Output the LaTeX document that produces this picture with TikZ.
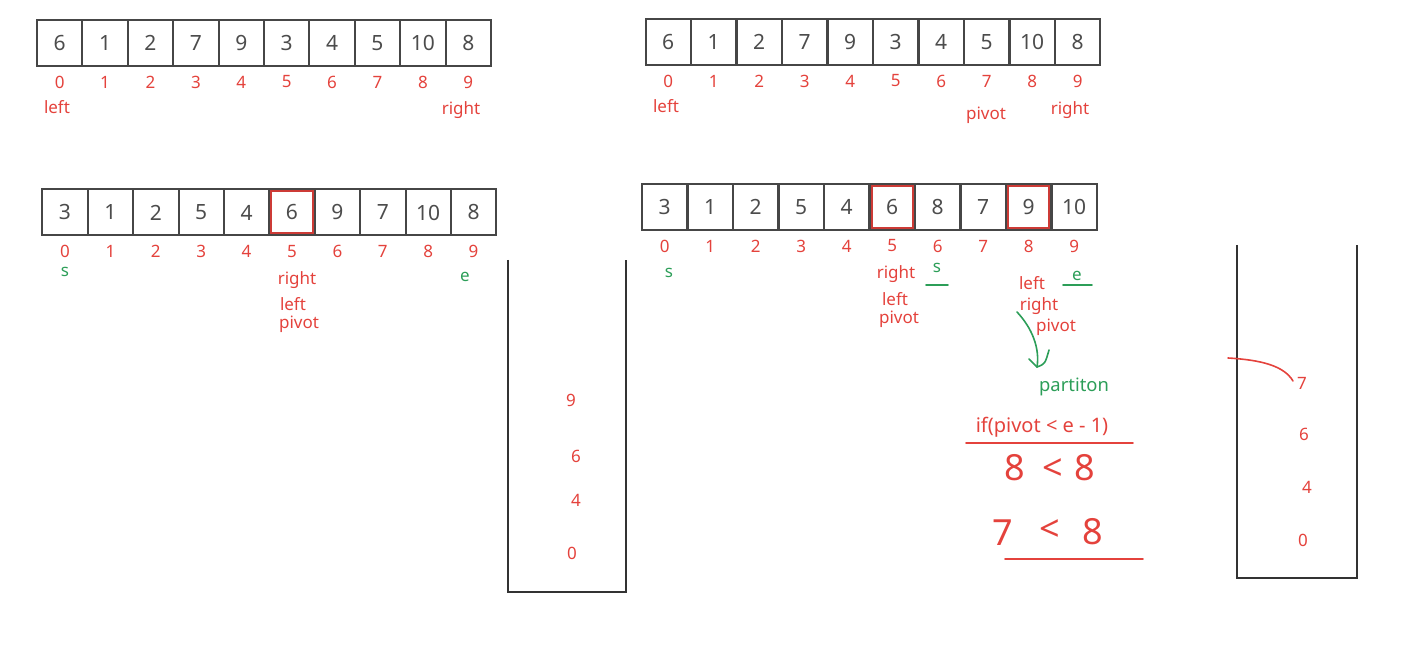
\documentclass[tikz,border=0pt]{standalone}
\usepackage{fontspec}
\setmainfont{Noto Sans}
\usetikzlibrary{positioning}
\definecolor{labred}{RGB}{228,66,60}
\definecolor{labgreen}{RGB}{44,158,88}
\definecolor{cellgray}{RGB}{70,70,70}

\begin{document}
\begin{tikzpicture}[
  x=0.5pt, y=-0.5pt,
  cell/.style={draw=cellgray, line width=1pt, minimum width=22.7pt,
               minimum height=23pt, inner sep=0pt, outer sep=0pt,
               font=\fontsize{10.5}{12}\selectfont, text=black!70},
  idx/.style={text=labred, font=\fontsize{8.5}{10}\selectfont, inner sep=1pt},
  tag/.style={text=labred, font=\fontsize{8.5}{10}\selectfont, inner sep=1pt},
  gtag/.style={text=labgreen, font=\fontsize{8.5}{10}\selectfont, inner sep=1pt},
  hotbox/.style={draw=labred!90!black, line width=1pt},
  wall/.style={draw=black!80, line width=1pt},
  ink/.style={labred, line width=0.8pt, line cap=round},
  gink/.style={labgreen, line width=0.8pt, line cap=round},
  hand/.style={text=labred, font=\fontsize{18}{22}\selectfont, inner sep=0pt}
 ]
\useasboundingbox (0,0) rectangle (1424,662);

% top left array
\foreach \v [count=\i from 0] in {6,1,2,7,9,3,4,5,10,8} {
  \node[cell] (ta\i) at (59.7+45.4*\i,43) {\v};
  \node[idx] (tai\i) at ([yshift=-8pt]ta\i.south) {\i};
}
\node[tag] (taleft)  at (57,107)  {left};
\node[tag] (taright) at (461,110) {right};

% top right array
\foreach \v [count=\i from 0] in {6,1,2,7,9,3,4,5,10,8} {
  \node[cell] (tb\i) at (668.2+45.5*\i,42) {\v};
  \node[idx] (tbi\i) at ([yshift=-8pt]tb\i.south) {\i};
}
\node[tag] (tbleft)  at (666,106)  {left};
\node[tag] (tbpivot) at (986,115)  {pivot};
\node[tag] (tbright) at (1070,110) {right};

% bottom left array
\foreach \v [count=\i from 0] in {3,1,2,5,4,6,9,7,10,8} {
  \node[cell] (ba\i) at (65+45.4*\i,212.5) {\v};
  \node[idx] (bai\i) at ([yshift=-8pt]ba\i.south) {\i};
}
\draw[hotbox] ([shift={(1pt,-1pt)}]ba5.north west) rectangle ([shift={(-1pt,1pt)}]ba5.south east);
\node[gtag] (bas)     at (65,272)  {s};
\node[tag]  (baright) at (297,280) {right};
\node[tag]  (baleft)  at (293,304) {left};
\node[tag]  (bapivot) at (299,324) {pivot};
\node[gtag] (bae)     at (465,277) {e};

% bottom right array
\foreach \v [count=\i from 0] in {3,1,2,5,4,6,8,7,9,10} {
  \node[cell] (bb\i) at (664.7+45.5*\i,207) {\v};
  \node[idx] (bbi\i) at ([yshift=-8pt]bb\i.south) {\i};
}
\draw[hotbox] ([shift={(1pt,-1pt)}]bb5.north west) rectangle ([shift={(-1pt,1pt)}]bb5.south east);
\draw[hotbox] ([shift={(1pt,-1pt)}]bb8.north west) rectangle ([shift={(-1pt,1pt)}]bb8.south east);
\node[gtag] (bbs)      at (669,273)  {s};
\node[tag]  (bbright)  at (896,274)  {right};
\node[tag]  (bbleft)   at (895,299)  {left};
\node[tag]  (bbpivot)  at (899,319)  {pivot};
\node[gtag] (bbsnew)   at (937,268)  {s};
\draw[gink] (926,285) -- (948,285);
\node[tag]  (bbleftb)  at (1032,283) {left};
\node[gtag] (bbe)      at (1077,276) {e};
\draw[gink] (1063,285) -- (1092,285);
\node[tag]  (bbrightb) at (1039,306) {right};
\node[tag]  (bbpivotb) at (1056,327) {pivot};

% partition step
\coordinate (bendtop) at (1017,312);
\coordinate (bendtip) at (1037,367);
\draw[gink] (bendtop) .. controls (1032,328) and (1040,348) .. (bendtip);
\draw[gink] (1029,359) -- (bendtip) .. controls (1045,364) .. (1049,350);
\node[gtag, font=\fontsize{9.2}{11}\selectfont] (part) at (1074,387) {partiton};
\node[tag, font=\fontsize{10}{12}\selectfont]   (cond) at (1042,427) {if(pivot < e - 1)};
\draw[ink] (966,443) -- (1133,443);
\node[hand] (ca1) at (1015,468) {8};
\node[hand] (ca2) at (1053,470) {<};
\node[hand] (ca3) at (1085,468) {8};
\node[hand] (cb1) at (1003,533) {7};
\node[hand] (cb2) at (1050,531) {<};
\node[hand] (cb3) at (1093,532) {8};
\draw[ink] (1005,559) -- (1143,559);

% left stack
\draw[wall] (508,260) -- (508,592) -- (626,592) -- (626,260);
\node[tag] (sa3) at (571,400) {9};
\node[tag] (sa2) at (576,456) {6};
\node[tag] (sa1) at (576,500) {4};
\node[tag] (sa0) at (572,553) {0};

% right stack
\draw[wall] (1237,245) -- (1237,578) -- (1357,578) -- (1357,245);
\node[tag] (sb3) at (1302,383) {7};
\node[tag] (sb2) at (1304,434) {6};
\node[tag] (sb1) at (1307,487) {4};
\node[tag] (sb0) at (1303,540) {0};
\coordinate (popmark) at (1228,358);
\draw[ink] (popmark) .. controls (1262,360) and (1284,366) .. ([shift={(-4.5pt,1pt)}]sb3.center);
\end{tikzpicture}
\end{document}
